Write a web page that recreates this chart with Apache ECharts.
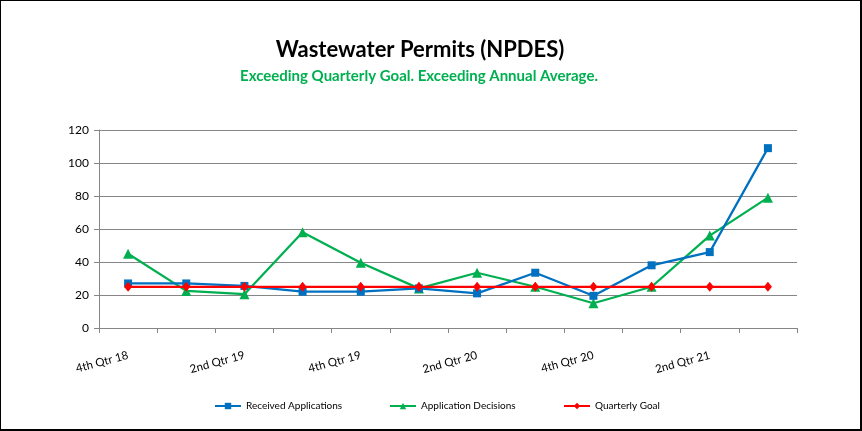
<!DOCTYPE html>
<html>
<head>
<meta charset="utf-8">
<script src="https://cdn.jsdelivr.net/npm/echarts@6/dist/echarts.min.js"></script>
<style>
html,body{margin:0;padding:0;background:#fff;}
#wrap{width:862px;height:431px;box-sizing:border-box;border-style:solid;border-color:#000;border-width:1px 2px 2px 1px;position:relative;}
#chart{position:absolute;left:-1px;top:-1px;width:862px;height:431px;}
</style>
</head>
<body>
<div id="wrap"><div id="chart"></div></div>
<script>
var categories = ['4th Qtr 18','1st Qtr 19','2nd Qtr 19','3rd Qtr 19','4th Qtr 19','1st Qtr 20','2nd Qtr 20','3rd Qtr 20','4th Qtr 20','1st Qtr 21','2nd Qtr 21','3rd Qtr 21'];
var receivedApplications = [27, 27, 25.5, 22, 22, 24, 21, 33.5, 19.5, 38, 46, 109];
var applicationDecisions = [45, 22.5, 20.5, 58, 39.5, 24, 33.5, 25, 15, 25, 56, 79];
var quarterlyGoal = [25, 25, 25, 25, 25, 25, 25, 25, 25, 25, 25, 25];
var yTicks = {min: 0, max: 120, interval: 20};

var FONT = 'Lato, "Open Sans", sans-serif';
var chart = echarts.init(document.getElementById('chart'), null, {renderer: 'canvas'});

function legendAt(name, left) {
  return {
    data: [name], left: left, top: 401, padding: 0, itemWidth: 26, itemHeight: 8, itemGap: 5,
    textStyle: {fontFamily: FONT, fontSize: 10, color: '#000'}
  };
}

chart.setOption({
  animation: false,
  title: [
    {text: 'Wastewater Permits (NPDES)', left: 415, top: 34, textAlign: 'center',
     textStyle: {fontFamily: FONT, fontSize: 22, fontWeight: 'bold', color: '#000'}},
    {text: 'Exceeding Quarterly Goal. Exceeding Annual Average.', left: 414, top: 64, textAlign: 'center',
     textStyle: {fontFamily: FONT, fontSize: 15, fontWeight: 'bold', color: '#00B050'}}
  ],
  legend: [
    legendAt('Received Applications', 214),
    legendAt('Application Decisions', 389),
    legendAt('Quarterly Goal', 563)
  ],
  grid: {left: 99, right: 65, top: 130, bottom: 103, containLabel: false},
  xAxis: {
    type: 'category', data: categories, boundaryGap: true,
    axisLine: {lineStyle: {color: '#868686', width: 1}},
    axisTick: {show: true, interval: 0, length: 5, lineStyle: {color: '#868686'}},
    axisLabel: {interval: 1, rotate: 15, margin: 27, fontFamily: FONT, fontSize: 11.5, color: '#000'}
  },
  yAxis: {
    type: 'value', min: yTicks.min, max: yTicks.max, interval: yTicks.interval,
    axisLine: {show: true, lineStyle: {color: '#868686', width: 1}},
    axisTick: {show: true, length: 5, lineStyle: {color: '#868686'}},
    splitLine: {lineStyle: {color: '#868686', width: 1}},
    axisLabel: {margin: 10, fontFamily: FONT, fontSize: 12, color: '#000'}
  },
  series: [
    {name: 'Received Applications', type: 'line', data: receivedApplications,
     symbol: 'rect', symbolSize: 8, lineStyle: {color: '#0070C0', width: 2.25},
     itemStyle: {color: '#0070C0'}, z: 3},
    {name: 'Application Decisions', type: 'line', data: applicationDecisions,
     symbol: 'triangle', symbolSize: 10, lineStyle: {color: '#00B050', width: 2.25},
     itemStyle: {color: '#00B050'}, z: 2},
    {name: 'Quarterly Goal', type: 'line', data: quarterlyGoal,
     symbol: 'diamond', symbolSize: [8, 10], lineStyle: {color: '#FF0000', width: 2.25},
     itemStyle: {color: '#FF0000'}, z: 4}
  ]
});
</script>
</body>
</html>
